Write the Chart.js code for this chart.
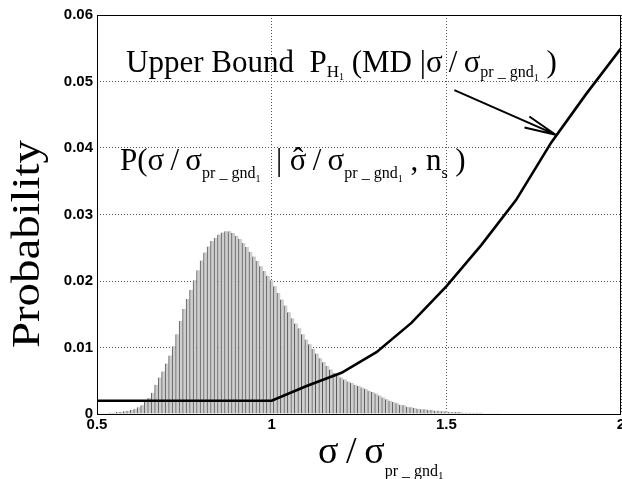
<!DOCTYPE html>
<html>
<head>
<meta charset="utf-8">
<script src="https://cdn.jsdelivr.net/npm/chart.js@4/dist/chart.umd.min.js"></script>
<style>
  html, body { margin: 0; padding: 0; background: #fff; }
  #wrap { width: 622px; height: 479px; }
</style>
</head>
<body>
<div id="wrap"><canvas id="chart"></canvas></div>
<script>
// histogram bins (sigma / sigma_pr_gnd1), bin width 0.01
const binCenters = [
  0.50, 0.51, 0.52, 0.53, 0.54, 0.55, 0.56, 0.57, 0.58, 0.59,
  0.60, 0.61, 0.62, 0.63, 0.64, 0.65, 0.66, 0.67, 0.68, 0.69,
  0.70, 0.71, 0.72, 0.73, 0.74, 0.75, 0.76, 0.77, 0.78, 0.79,
  0.80, 0.81, 0.82, 0.83, 0.84, 0.85, 0.86, 0.87, 0.88, 0.89,
  0.90, 0.91, 0.92, 0.93, 0.94, 0.95, 0.96, 0.97, 0.98, 0.99,
  1.00, 1.01, 1.02, 1.03, 1.04, 1.05, 1.06, 1.07, 1.08, 1.09,
  1.10, 1.11, 1.12, 1.13, 1.14, 1.15, 1.16, 1.17, 1.18, 1.19,
  1.20, 1.21, 1.22, 1.23, 1.24, 1.25, 1.26, 1.27, 1.28, 1.29,
  1.30, 1.31, 1.32, 1.33, 1.34, 1.35, 1.36, 1.37, 1.38, 1.39,
  1.40, 1.41, 1.42, 1.43, 1.44, 1.45, 1.46, 1.47, 1.48, 1.49,
  1.50, 1.51, 1.52, 1.53, 1.54, 1.55, 1.56, 1.57, 1.58, 1.59,
  1.60, 1.61, 1.62, 1.63, 1.64, 1.65
];
const histValues = [
  0.0001, 0.0001, 0.0001, 0.0001, 0.0002, 0.0002, 0.0003, 0.0003, 0.0004, 0.0005,
  0.0006, 0.0008, 0.0010, 0.0013, 0.0018, 0.0024, 0.0032, 0.0044, 0.0055, 0.0064,
  0.0076, 0.0088, 0.0102, 0.0120, 0.0140, 0.0158, 0.0173, 0.0187, 0.0201, 0.0216,
  0.0231, 0.0243, 0.0252, 0.0260, 0.0265, 0.0270, 0.0273, 0.0275, 0.0275, 0.0272,
  0.0268, 0.0263, 0.0257, 0.0251, 0.0244, 0.0237, 0.0230, 0.0222, 0.0215, 0.0208,
  0.0201, 0.0192, 0.0182, 0.0172, 0.0163, 0.0153, 0.0144, 0.0136, 0.0129, 0.0120,
  0.0112, 0.0105, 0.0098, 0.0091, 0.0084, 0.0078, 0.0072, 0.0067, 0.0062, 0.0058,
  0.0055, 0.0052, 0.0049, 0.0047, 0.0044, 0.0042, 0.0040, 0.0038, 0.0035, 0.0033,
  0.0031, 0.0028, 0.0025, 0.0022, 0.0020, 0.0018, 0.0016, 0.0014, 0.0013, 0.0011,
  0.0010, 0.0009, 0.0008, 0.0007, 0.0007, 0.0006, 0.0006, 0.0005, 0.0005, 0.0004,
  0.0004, 0.0003, 0.0003, 0.0003, 0.0003, 0.0002, 0.0002, 0.0002, 0.0002, 0.0002,
  0.0002, 0.0001, 0.0001, 0.0001, 0.0001, 0.0001
];

// upper bound P_H1(MD | sigma/sigma_pr_gnd1)
const boundX = [0.5, 1.0, 1.1, 1.2, 1.3, 1.4, 1.5, 1.6, 1.7, 1.8, 1.9, 2.0];
const boundY = [0.002, 0.002, 0.0042, 0.0062, 0.0093, 0.0137, 0.0192, 0.0254, 0.0322, 0.0408, 0.0481, 0.0550];

const xTicks = [0.5, 1, 1.5, 2];
const yTicks = [0, 0.01, 0.02, 0.03, 0.04, 0.05, 0.06];

const serif = '"Liberation Serif", "Times New Roman", serif';

// draw a run of text pieces: [text, size, baselineShift]
function richText(ctx, x, y, parts) {
    parts.forEach(([t, size, dy]) => {
        ctx.font = size + 'px ' + serif;
        ctx.fillText(t, x, y + dy);
        x += ctx.measureText(t).width;
    });
    return x;
}

const annotations = {
    id: 'annotations',
    afterDraw(chart) {
        const ctx = chart.ctx;
        const xs = chart.scales.x, ys = chart.scales.y;
        const area = chart.chartArea;

        ctx.save();
        // frame
        ctx.strokeStyle = '#000';
        ctx.lineWidth = 1;
        ctx.setLineDash([]);
        ctx.strokeRect(area.left + 0.5, area.top + 0.5, area.right - area.left - 1, area.bottom - area.top);

        ctx.fillStyle = '#000';
        ctx.textAlign = 'left';
        ctx.textBaseline = 'alphabetic';

        // "Upper Bound P_H1 (MD | sigma/sigma_pr_gnd1)"
        let x = xs.getPixelForValue(0.583), y = ys.getPixelForValue(0.0514);
        richText(ctx, x, y, [
            ['Upper Bound  P', 31, 0], ['H', 17, 5], ['1', 10, 8],
            [' (MD |σ\u2009/\u2009σ', 31, 0], ['pr _ gnd', 16, 5], ['1', 10, 9], [' )', 31, 0]
        ]);

        // "P(sigma/sigma_pr_gnd1 | sigma_hat/sigma_pr_gnd1, n_s)"
        x = xs.getPixelForValue(0.566); y = ys.getPixelForValue(0.0367);
        x = richText(ctx, x, y, [
            ['P(σ\u2009/\u2009σ', 31, 0], ['pr _ gnd', 16, 8], ['1', 10, 12], ['  | ', 31, 0]
        ]);
        ctx.font = '31px ' + serif;
        const sw = ctx.measureText('σ').width;
        ctx.fillText('σ', x, y);
        ctx.textAlign = 'center';
        ctx.fillText('\u02C6', x + sw / 2, y - 1);
        ctx.textAlign = 'left';
        x += sw;
        richText(ctx, x, y, [
            ['\u2009/\u2009σ', 31, 0], ['pr _ gnd', 16, 8], ['1', 10, 12],
            [' , n', 31, 0], ['s', 16, 8], [' )', 31, 0]
        ]);

        // arrow to the bound curve
        const x0 = xs.getPixelForValue(1.523), y0 = ys.getPixelForValue(0.0487);
        const x1 = xs.getPixelForValue(1.813), y1 = ys.getPixelForValue(0.042);
        ctx.strokeStyle = '#000';
        ctx.lineWidth = 2;
        ctx.beginPath();
        ctx.moveTo(x0, y0);
        ctx.lineTo(x1, y1);
        const ang = Math.atan2(y0 - y1, x0 - x1);
        [-0.19, 0.19].forEach(d => {
            ctx.moveTo(x1, y1);
            ctx.lineTo(x1 + 32 * Math.cos(ang + d), y1 + 32 * Math.sin(ang + d));
        });
        ctx.stroke();

        // x axis title
        richText(ctx, 318, 463, [
            ['σ\u2009/\u2009σ', 38, 0], ['pr _ gnd', 16, 13], ['1', 11, 16]
        ]);

        // y axis title
        ctx.save();
        ctx.font = '40px ' + serif;
        const w = ctx.measureText('Probability').width;
        ctx.translate(39, 244);
        ctx.rotate(-Math.PI / 2);
        ctx.scale(208 / w, 1);
        ctx.textAlign = 'center';
        ctx.fillText('Probability', 0, 0);
        ctx.restore();

        ctx.restore();
    }
};

const tickFont = { family: '"Liberation Sans", Arial, sans-serif', size: 15, weight: 'bold' };

new Chart(document.getElementById('chart'), {
    data: {
        datasets: [{
            type: 'line',
            data: boundX.map((v, i) => ({ x: v, y: boundY[i] })),
            borderColor: '#000',
            borderWidth: 2.6,
            pointRadius: 0,
            tension: 0,
            order: 0
        }, {
            type: 'bar',
            data: binCenters.map((v, i) => ({ x: v, y: histValues[i] })),
            backgroundColor: '#cfcfcf',
            borderColor: '#555',
            borderWidth: { left: 1, top: 0, right: 0, bottom: 0 },
            borderSkipped: false,
            barPercentage: 1,
            categoryPercentage: 1,
            order: 1
        }]
    },
    options: {
        responsive: true,
        maintainAspectRatio: false,
        animation: false,
        layout: { padding: { top: 15, right: 1, left: 0, bottom: 0 } },
        plugins: {
            legend: { display: false },
            tooltip: { enabled: false }
        },
        scales: {
            x: {
                type: 'linear',
                min: 0.5,
                max: 2,
                offset: false,
                afterBuildTicks: s => { s.ticks = xTicks.map(v => ({ value: v })); },
                afterFit: s => { s.height = 65; s.paddingLeft = 0; s.paddingRight = 0; },
                ticks: {
                    color: '#000',
                    font: tickFont,
                    padding: 2,
                    maxRotation: 0,
                    callback: v => String(v)
                },
                grid: { color: '#555', lineWidth: 1, drawTicks: false, offset: false },
                border: { display: false, dash: [1, 2] }
            },
            y: {
                min: 0,
                max: 0.06,
                afterBuildTicks: s => { s.ticks = yTicks.map(v => ({ value: v })); },
                afterFit: s => { s.width = 97; },
                ticks: {
                    color: '#000',
                    font: tickFont,
                    padding: 4,
                    callback: v => v === 0 ? '0' : v.toFixed(2)
                },
                grid: { color: '#555', lineWidth: 1, drawTicks: false },
                border: { display: false, dash: [1, 2] }
            }
        }
    },
    plugins: [annotations]
});
</script>
</body>
</html>
